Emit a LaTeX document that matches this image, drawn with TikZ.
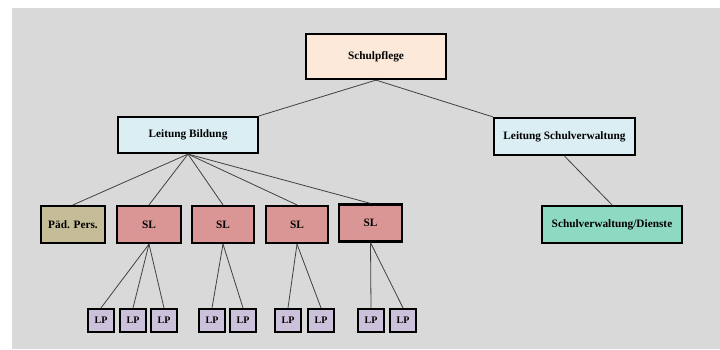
\documentclass[tikz,border=0pt]{standalone}
\usepackage{fontspec}
\setmainfont{Liberation Serif}
\usepackage{tikz}
\usetikzlibrary{positioning}
\definecolor{bggray}{HTML}{D9D9D9}
\definecolor{peach}{HTML}{FDE9D9}
\definecolor{paleblue}{HTML}{DBEEF4}
\definecolor{khaki}{HTML}{C4BD97}
\definecolor{rose}{HTML}{D99694}
\definecolor{mint}{HTML}{8ED9C2}
\definecolor{lavender}{HTML}{CCC1DA}
\definecolor{linegray}{HTML}{404040}

\begin{document}
\begin{tikzpicture}[x=1pt,y=-1pt,
  box/.style={draw=black,line width=2.2pt,inner sep=0pt,font=\bfseries\fontsize{11.3}{13}\selectfont},
  lp/.style={box,fill=lavender,minimum width=26pt,minimum height=23pt,font=\bfseries\fontsize{10}{12}\selectfont}]
\useasboundingbox (0,0) rectangle (720,349);
\fill[bggray] (12,8) rectangle (720,349);
\node[box,fill=peach,minimum width=140pt,minimum height=45pt] (SP) at (376,56.5) {Schulpflege};
\node[box,fill=paleblue,minimum width=140pt,minimum height=36pt] (LB) at (188,135) {Leitung Bildung};
\node[box,fill=paleblue,minimum width=141pt,minimum height=37pt] (LS) at (564.5,136.5) {Leitung Schulverwaltung};
\node[box,fill=khaki,minimum width=64pt,minimum height=37pt] (PP) at (73,224.5) {Päd. Pers.};
\node[box,fill=rose,minimum width=64pt,minimum height=37pt] (SL1) at (149,224.5) {SL};
\node[box,fill=rose,minimum width=62pt,minimum height=37pt] (SL2) at (223,224.5) {SL};
\node[box,fill=rose,minimum width=62pt,minimum height=37pt] (SL3) at (297,224.5) {SL};
\node[box,fill=rose,minimum width=63pt,minimum height=37pt] (SL4) at (370.5,223) {SL};
\node[box,fill=mint,minimum width=140pt,minimum height=37pt] (SVD) at (612,224.5) {Schulverwaltung/Dienste};
\node[lp] (LP1) at (101,320.5) {LP};
\node[lp] (LP2) at (133,320.5) {LP};
\node[lp] (LP3) at (164,320.5) {LP};
\node[lp] (LP4) at (212,320.5) {LP};
\node[lp] (LP5) at (243,320.5) {LP};
\node[lp] (LP6) at (288,320.5) {LP};
\node[lp] (LP7) at (321,320.5) {LP};
\node[lp] (LP8) at (371,320.5) {LP};
\node[lp] (LP9) at (403,320.5) {LP};
\path[draw=linegray,line width=0.8pt]
(SP.south) edge (LB.north east)
(SP.south) edge (LS.north west)
(LB.south) edge (PP.north)
(LB.south) edge (SL1.north)
(LB.south) edge (SL2.north)
(LB.south) edge (SL3.north)
(LB.south) edge (SL4.north)
(LS.south) edge (SVD.north)
(SL1.south) edge (LP1.north)
(SL1.south) edge (LP2.north)
(SL1.south) edge (LP3.north)
(SL2.south) edge (LP4.north)
(SL2.south) edge (LP5.north)
(SL3.south) edge (LP6.north)
(SL3.south) edge (LP7.north)
(SL4.south) edge (LP8.north)
(SL4.south) edge (LP9.north);
\end{tikzpicture}
\end{document}
